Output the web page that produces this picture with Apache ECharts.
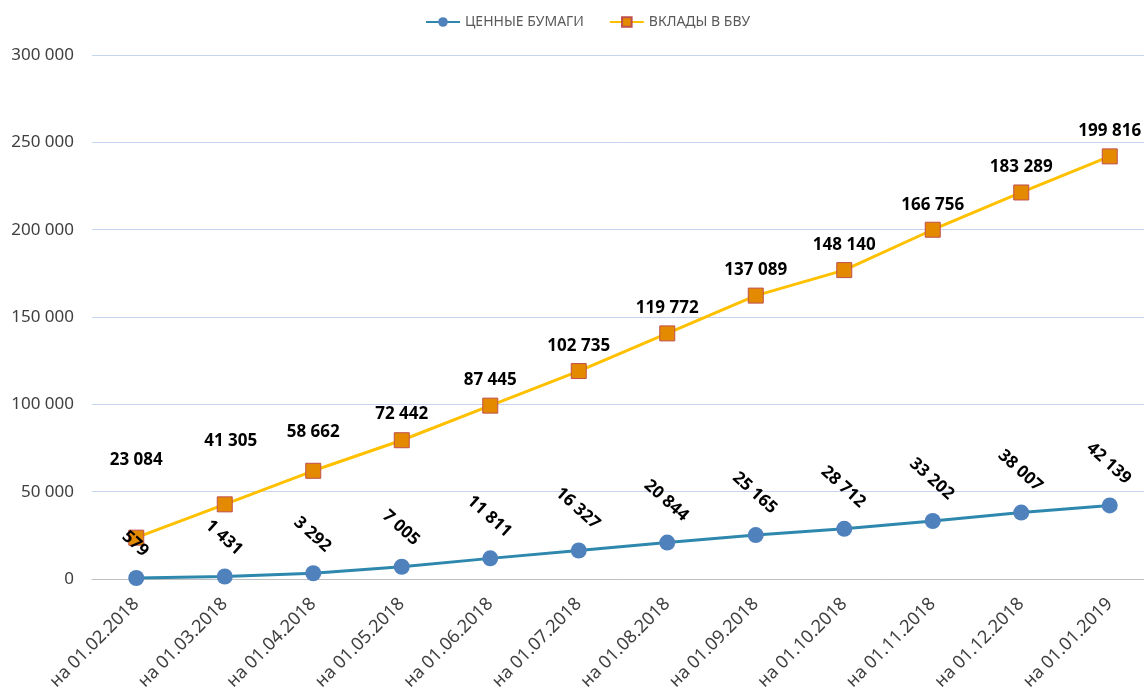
<!DOCTYPE html>
<html>
<head>
<meta charset="utf-8">
<script src="https://cdn.jsdelivr.net/npm/echarts@6/dist/echarts.min.js"></script>
<style>html,body{margin:0;padding:0;background:#fff;}#chart{width:1144px;height:688px;}</style>
</head>
<body>
<div id="chart"></div>
<script>
// ---- data ----
const categories = ['на 01.02.2018','на 01.03.2018','на 01.04.2018','на 01.05.2018','на 01.06.2018','на 01.07.2018','на 01.08.2018','на 01.09.2018','на 01.10.2018','на 01.11.2018','на 01.12.2018','на 01.01.2019'];
const seriesNames = ['ЦЕННЫЕ БУМАГИ', 'ВКЛАДЫ В БВУ'];
const securities = [579, 1431, 3292, 7005, 11811, 16327, 20844, 25165, 28712, 33202, 38007, 42139];
const deposits = [23084, 41305, 58662, 72442, 87445, 102735, 119772, 137089, 148140, 166756, 183289, 199816];
const yMin = 0, yMax = 300000, yStep = 50000;

// ---- label placement style (pixels above the marker centre) ----
const depositLabelRaise = [78, 63, 39, 26, 25, 25, 25, 25, 25, 25, 25, 25];
const depositLabelShiftX = [0, 6, 0, 0, 0, 0, 0, 0, 0, 0, 0, 0];

const FONT = '"Noto Sans", "Open Sans", sans-serif';
function fmt(v) { return String(Math.round(v)).replace(/\B(?=(\d{3})+(?!\d))/g, ' '); }

const chart = echarts.init(document.getElementById('chart'), null, { renderer: 'canvas' });
chart.setOption({
  animation: false,
  backgroundColor: '#fff',
  textStyle: { fontFamily: FONT },
  legend: {
    top: 10,
    left: 420,
    itemWidth: 34,
    itemHeight: 12,
    itemGap: 25,
    textStyle: { fontFamily: FONT, fontSize: 14, color: '#595959' },
    data: seriesNames
  },
  grid: { left: 92, right: -10, top: 55, bottom: 109, containLabel: false, outerBoundsMode: 'none' },
  xAxis: {
    type: 'category',
    data: categories,
    boundaryGap: true,
    axisTick: { show: false },
    axisLine: { lineStyle: { color: '#BFBFBF', width: 1 } },
    axisLabel: {
      interval: 0, rotate: 45, margin: 22,
      fontFamily: FONT, fontSize: 18, color: '#404040'
    },
    splitLine: { show: false }
  },
  yAxis: {
    type: 'value',
    min: yMin, max: yMax, interval: yStep,
    axisLine: { show: false },
    axisTick: { show: false },
    axisLabel: { margin: 18, fontFamily: FONT, fontSize: 17, color: '#404040', formatter: fmt },
    splitLine: { lineStyle: { color: '#C5D3EE', width: 1 } }
  },
  series: [
    {
      name: seriesNames[0],
      type: 'line',
      stack: 'total',
      data: securities,
      symbol: 'circle',
      symbolSize: 16,
      itemStyle: { color: '#4F81BD' },
      lineStyle: { color: '#2E88AD', width: 3 },
      z: 3,
      label: {
        show: true, position: 'top', rotate: -42,
        fontFamily: FONT, fontSize: 17, fontWeight: 'bold', color: '#000',
        formatter: p => fmt(p.value)
      },
      labelLayout: function (p) {
        const cx = p.rect.x + p.rect.width / 2;
        const cy = p.rect.y + p.rect.height / 2;
        return { x: cx - 1, y: cy - 18 - p.labelRect.height / 2, align: 'center', verticalAlign: 'middle', rotate: -42 };
      }
    },
    {
      name: seriesNames[1],
      type: 'line',
      stack: 'total',
      data: deposits,
      symbol: 'rect',
      symbolSize: 15,
      itemStyle: { color: '#E38A00', borderColor: '#C0504D', borderWidth: 1 },
      lineStyle: { color: '#FFC000', width: 3 },
      z: 2,
      label: {
        show: true, position: 'top',
        fontFamily: FONT, fontSize: 17, fontWeight: 'bold', color: '#000',
        formatter: p => fmt(p.value)
      },
      labelLayout: function (p) {
        const cx = p.rect.x + p.rect.width / 2;
        const cy = p.rect.y + p.rect.height / 2;
        return { x: cx + depositLabelShiftX[p.dataIndex], y: cy - depositLabelRaise[p.dataIndex], align: 'center', verticalAlign: 'middle' };
      }
    }
  ]
});
</script>
</body>
</html>
